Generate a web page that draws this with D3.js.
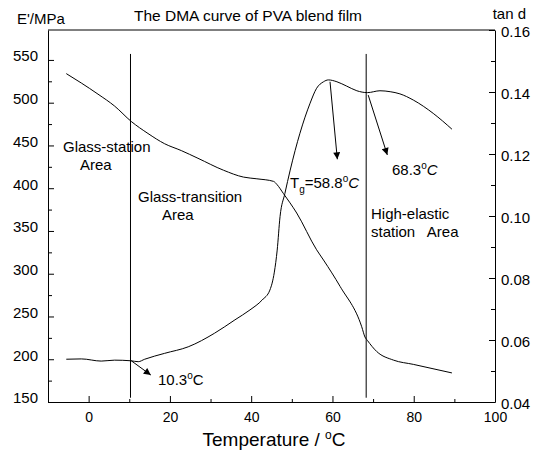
<!DOCTYPE html>
<html>
<head>
<meta charset="utf-8">
<script src="https://cdn.jsdelivr.net/npm/d3@7"></script>
<style>
  body { margin: 0; background: #fff; }
  svg { display: block; font-family: "Liberation Sans", Arial, sans-serif; }
  .axis path, .axis line { stroke: #000; stroke-width: 1; }
  .axis text { font-size: 15px; fill: #000; }
  .axis.x text { font-size: 14px; }
  .curve { fill: none; stroke: #000; stroke-width: 1; }
  .lbl { font-size: 15px; fill: #000; white-space: pre; }
</style>
</head>
<body>
<svg width="536" height="453"></svg>
<script>
'use strict';

// storage modulus E' (MPa) vs temperature
var modT = [-5.5, -1.8, 2.3, 6.4, 10.5, 14.6, 18.7, 22.8, 26.9, 33.2, 38.1, 41.4, 45.5, 46.4, 47.9, 51.2, 56.1, 57.8, 61.9, 67.2, 68.0, 68.6, 70.9, 75.0, 79.9, 89.4];
var modE = [534, 523, 510, 496, 478, 464, 452, 444, 435, 421, 413, 411, 408, 404, 394, 371, 328, 316, 285, 238, 226, 222, 209, 199, 194, 184];

// tan d vs temperature
var tanT = [-5.5, -1.8, 3.1, 6.4, 10.4, 12.2, 13.8, 18.7, 24.5, 31.0, 36.0, 39.7, 42.7, 44.6, 45.7, 46.4, 47.1, 48.3, 49.6, 52.0, 54.5, 56.1, 57.8, 59.0, 61.1, 63.5, 66.0, 68.6, 71.7, 74.2, 76.6, 79.9, 84.8, 89.4];
var tanD = [0.0538, 0.0539, 0.0532, 0.0535, 0.0533, 0.0530, 0.0538, 0.0557, 0.0578, 0.0622, 0.0665, 0.0697, 0.0729, 0.0761, 0.0819, 0.0890, 0.0998, 0.1073, 0.1148, 0.1267, 0.1364, 0.1412, 0.1433, 0.1439, 0.1433, 0.1419, 0.1404, 0.1398, 0.1404, 0.1401, 0.1394, 0.1374, 0.1331, 0.1280];

var xTicks = [0, 20, 40, 60, 80, 100];
var xMinor = [10, 30, 50, 70, 90];
var eTicks = [150, 200, 250, 300, 350, 400, 450, 500, 550];
var eMinor = [175, 225, 275, 325, 375, 425, 475, 525];
var dTicks = [0.04, 0.06, 0.08, 0.10, 0.12, 0.14, 0.16];
var dMinor = [0.05, 0.07, 0.09, 0.11, 0.13, 0.15];

// region borders (deg C) and the E' span they cover
var borders = [10.3, 68.3];
var borderSpan = [155, 557];

// arrows on tan d curve: [T0, d0, T1, d1]
var arrows = [
  [59.4, 0.1433, 61.2, 0.1183],
  [68.8, 0.1390, 73.5, 0.1197],
  [10.5, 0.0533, 15.3, 0.0487]
];

var svg = d3.select('svg');
var margin = { top: 30, right: 41, bottom: 51, left: 48 };
var width = 536, height = 453;
var x0 = margin.left, x1 = width - margin.right;
var y0 = height - margin.bottom, y1 = margin.top;

var xScale = d3.scaleLinear().domain([-10, 100]).range([x0, x1]);
var eScale = d3.scaleLinear().domain([150, 585]).range([y0, y1]);
var dScale = d3.scaleLinear().domain([0.04, 0.16]).range([y0, y1]);

var defs = svg.append('defs');
defs.append('marker').attr('id', 'head')
  .attr('viewBox', '0 0 10 10').attr('refX', 10).attr('refY', 5)
  .attr('markerWidth', 9).attr('markerHeight', 7).attr('markerUnits', 'userSpaceOnUse')
  .attr('orient', 'auto')
  .append('path').attr('d', 'M0,0L10,5L0,10z').attr('fill', '#000');

// frame top
svg.append('line').attr('x1', x0).attr('x2', x1).attr('y1', y1).attr('y2', y1)
  .attr('stroke', '#000');

function addAxis(axis, tr, minorAxis, cls) {
  var g = svg.append('g').attr('class', 'axis ' + cls).attr('transform', tr).call(axis);
  svg.append('g').attr('class', 'axis').attr('transform', tr).call(minorAxis)
    .call(function (s) { s.select('.domain').remove(); s.selectAll('text').remove(); });
  return g;
}

addAxis(d3.axisBottom(xScale).tickValues(xTicks).tickSize(-6).tickSizeOuter(0).tickPadding(10),
  'translate(0,' + y0 + ')',
  d3.axisBottom(xScale).tickValues(xMinor).tickSize(-3), 'x');

addAxis(d3.axisLeft(eScale).tickValues(eTicks).tickSize(-6).tickSizeOuter(0).tickPadding(10),
  'translate(' + x0 + ',0)',
  d3.axisLeft(eScale).tickValues(eMinor).tickSize(-4), 'yl')
  .selectAll('text').attr('y', -4);

addAxis(d3.axisRight(dScale).tickValues(dTicks).tickFormat(d3.format('.2f')).tickSize(-6).tickSizeOuter(0).tickPadding(6),
  'translate(' + x1 + ',0)',
  d3.axisRight(dScale).tickValues(dMinor).tickSize(-4), 'yr')
  .selectAll('text').attr('y', 2);

// region borders
svg.selectAll('.border').data(borders).enter().append('line')
  .attr('class', 'border')
  .attr('x1', function (d) { return xScale(d); })
  .attr('x2', function (d) { return xScale(d); })
  .attr('y1', eScale(borderSpan[1]))
  .attr('y2', eScale(borderSpan[0]))
  .attr('stroke', '#000');

var eLine = d3.line()
  .x(function (d, i) { return xScale(modT[i]); })
  .y(function (d) { return eScale(d); })
  .curve(d3.curveMonotoneX);

var dLine = d3.line()
  .x(function (d, i) { return xScale(tanT[i]); })
  .y(function (d) { return dScale(d); })
  .curve(d3.curveMonotoneX);

svg.append('path').attr('class', 'curve').attr('d', eLine(modE));
svg.append('path').attr('class', 'curve').attr('d', dLine(tanD));

svg.selectAll('.arrow').data(arrows).enter().append('line')
  .attr('class', 'arrow')
  .attr('x1', function (d) { return xScale(d[0]); })
  .attr('y1', function (d) { return dScale(d[1]); })
  .attr('x2', function (d) { return xScale(d[2]); })
  .attr('y2', function (d) { return dScale(d[3]); })
  .attr('stroke', '#000')
  .attr('marker-end', 'url(#head)');

// titles
svg.append('text').attr('x', 248).attr('y', 21).attr('text-anchor', 'middle')
  .style('font-size', '15.5px').text('The DMA curve of PVA blend film');
svg.append('text').attr('x', 17).attr('y', 24).style('font-size', '15px').text("E'/MPa");
svg.append('text').attr('x', 526).attr('y', 19).attr('text-anchor', 'end')
  .style('font-size', '15px').text('tan d');

var xt = svg.append('text').attr('x', 274).attr('y', 446).attr('text-anchor', 'middle')
  .style('font-size', '19px');
xt.append('tspan').text('Temperature / ');
xt.append('tspan').attr('dy', -7).style('font-size', '12px').text('o');
xt.append('tspan').attr('dy', 7).text('C');

// region labels
function label(x, y, s) {
  return svg.append('text').attr('class', 'lbl').attr('x', x).attr('y', y).text(s);
}
label(63, 152, 'Glass-station');
label(80, 170, 'Area');
label(138, 202, 'Glass-transition');
label(162, 220, 'Area');
label(371, 219, 'High-elastic');
label(371, 237, 'station   Area');

var tg = svg.append('text').attr('class', 'lbl').attr('x', 290).attr('y', 188);
tg.append('tspan').text('T');
tg.append('tspan').attr('dy', 5).style('font-size', '10px').text('g');
tg.append('tspan').attr('dy', -5).text('=58.8');
tg.append('tspan').attr('dy', -6).style('font-size', '10px').text('o');
tg.append('tspan').attr('dy', 6).style('font-style', 'italic').text('C');

var t68 = svg.append('text').attr('class', 'lbl').attr('x', 392).attr('y', 175);
t68.append('tspan').text('68.3');
t68.append('tspan').attr('dy', -6).style('font-size', '10px').text('o');
t68.append('tspan').attr('dy', 6).style('font-style', 'italic').text('C');

var t10 = svg.append('text').attr('class', 'lbl').attr('x', 158).attr('y', 385);
t10.append('tspan').text('10.3');
t10.append('tspan').attr('dy', -6).style('font-size', '10px').text('o');
t10.append('tspan').attr('dy', 6).text('C');
</script>
</body>
</html>
